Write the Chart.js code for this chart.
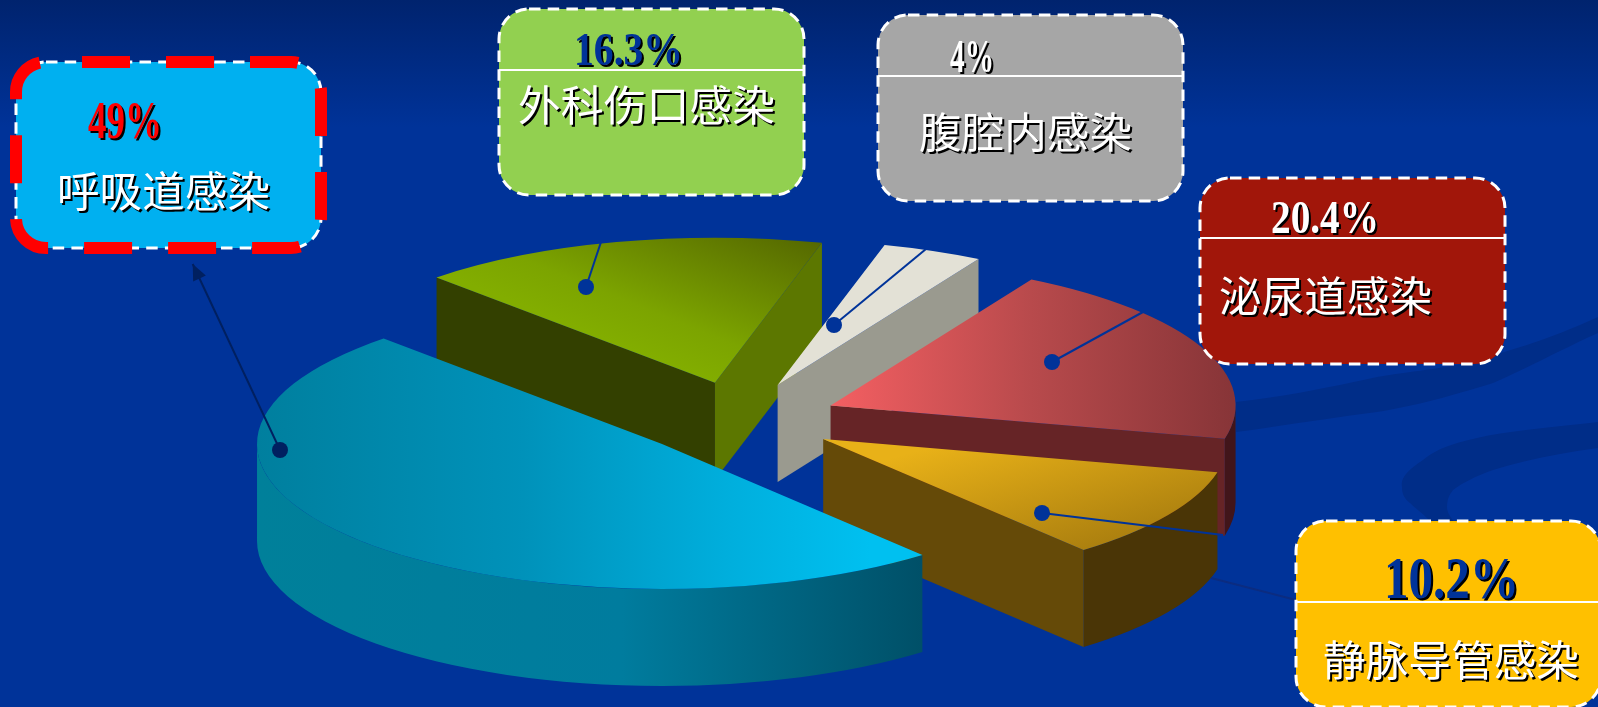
<!DOCTYPE html>
<html>
<head>
<meta charset="utf-8">
<title>感染部位构成</title>
<script src="https://cdn.jsdelivr.net/npm/chart.js@4"></script>
<style>
    html, body { margin: 0; width: 1598px; height: 707px; overflow: hidden; background: #003399; }
    #backdrop, #chartCanvas, #overlay { position: absolute; left: 0; top: 0; }
    .pct { font-family: "Liberation Serif", serif; font-weight: bold; filter: drop-shadow(2px 2px 0 #000); }
    .name { font-family: "Noto Sans CJK SC", sans-serif; font-size: 42px; fill: #fff; filter: drop-shadow(2px 2px 0 #000); }
</style>
</head>
<body>
<svg id="backdrop" width="1598" height="707">
    <defs>
        <linearGradient id="sky" x1="0" y1="0" x2="0" y2="1">
            <stop offset="0" stop-color="#00236e"/>
            <stop offset="0.18" stop-color="#003399"/>
            <stop offset="1" stop-color="#003399"/>
        </linearGradient>
    </defs>
    <rect width="1598" height="707" fill="url(#sky)"/>
    <path d="M1236 402 C1290 396 1340 385 1377 377 C1420 370 1450 368 1477 360 C1520 348 1560 335 1598 317 L1598 333 C1560 350 1520 372 1493 383 C1450 396 1420 405 1377 412 C1330 418 1280 426 1236 432 Z" fill="#002d88"/>
    <path d="M1598 422 C1550 428 1510 430 1477 438 C1450 444 1435 450 1423 460 C1408 470 1400 478 1402 487 C1402 495 1405 499 1410 503 C1416 509 1425 515 1433 524 L1456 524 C1450 517 1447 512 1447 507 C1447 500 1449 495 1453 490 C1462 483 1476 476 1493 470 C1525 460 1560 453 1598 448 Z" fill="#002d88"/>
</svg>
<canvas id="chartCanvas" width="1598" height="707"></canvas>
<svg id="overlay" width="1598" height="707"></svg>

<script>
const categories = ["呼吸道感染", "外科伤口感染", "腹腔内感染", "泌尿道感染", "静脉导管感染"];
const values = [49, 16.3, 4, 20.4, 10.2];

// how far each slice is pulled out, as a share of the radius
const explode = [0.248, 0.265, 0.262, 0.252, 0.25];
// small sideways correction on top of that, the green slice sits a bit right of its own direction
const tipNudgeX = [0, 4, 0, 0, 0];
// back to front, the big slice has to cover the others
const drawOrder = [1, 2, 3, 4, 0];

const pieRadius = 405;
const tilt = 145 / 405;
const depth = 97;
const centerX = 737;
const centerY = 420;

const canvas = document.getElementById("chartCanvas");
const ctx = canvas.getContext("2d");

// top face gradients are given relative to the tip of the slice, on screen
function topGradient(x0, y0, x1, y1, stops) {
    const g = ctx.createLinearGradient(centerX + x0, centerY + y0 / tilt, centerX + x1, centerY + y1 / tilt);
    stops.forEach(s => g.addColorStop(s[0], s[1]));
    return g;
}

const topColors = [
    topGradient(-405, 0, 262, 0, [[0, "#007f9e"], [0.4, "#0092ba"], [0.7, "#00aedc"], [0.92, "#00c0f0"], [1, "#00c0f0"]]),
    topGradient(0, 0, 255, -81, [[0, "#82ad00"], [0.25, "#7ca400"], [1, "#556800"]]),
    "#e3e1d6",
    topGradient(0, 0, 400, 0, [[0, "#f45f62"], [0.5, "#b84a4c"], [1, "#883538"]]),
    topGradient(100, 10, 300, 100, [[0, "#e8b118"], [1, "#ac800f"]])
];

const startWallColors = [null, "#334000", null, null, null];
const endWallColors = [null, "#5c7700", "#9a9a8f", "#662426", "#654a08"];

const blueRim = ctx.createLinearGradient(256, 0, 921, 0);
blueRim.addColorStop(0, "#00809a");
blueRim.addColorStop(0.55, "#007c9e");
blueRim.addColorStop(1, "#005068");
const rimColors = [blueRim, null, null, "#41151a", "#4a3506"];

function sliceTip(arc, i) {
    const mid = (arc.startAngle + arc.endAngle) / 2;
    return {
        x: arc.x + Math.cos(mid) * explode[i] * pieRadius + tipNudgeX[i],
        y: arc.y + Math.sin(mid) * explode[i] * pieRadius * tilt
    };
}

function drawWall(c, tip, angle, color) {
    const px = tip.x + Math.cos(angle) * pieRadius;
    const py = tip.y + Math.sin(angle) * pieRadius * tilt;
    c.fillStyle = color;
    c.beginPath();
    c.moveTo(tip.x, tip.y);
    c.lineTo(px, py);
    c.lineTo(px, py + depth);
    c.lineTo(tip.x, tip.y + depth);
    c.closePath();
    c.fill();
}

function drawRim(c, tip, arc, color) {
    // only the part of the edge that faces the viewer, angles 0..PI
    [0, Math.PI * 2].forEach(turn => {
        const from = Math.max(arc.startAngle, turn);
        const to = Math.min(arc.endAngle, turn + Math.PI);
        if (to <= from) {
            return;
        }
        c.fillStyle = color;
        c.beginPath();
        c.ellipse(tip.x, tip.y, pieRadius, pieRadius * tilt, 0, from, to);
        c.ellipse(tip.x, tip.y + depth, pieRadius, pieRadius * tilt, 0, to, from, true);
        c.closePath();
        c.fill();
    });
}

const pie3d = {
    id: "pie3d",
    beforeDatasetsDraw(chart) {
        const c = chart.ctx;
        const arcs = chart.getDatasetMeta(0).data;
        drawOrder.forEach(i => {
            const arc = arcs[i];
            const tip = sliceTip(arc, i);
            if (startWallColors[i]) {
                drawWall(c, tip, arc.startAngle, startWallColors[i]);
            }
            if (rimColors[i]) {
                drawRim(c, tip, arc, rimColors[i]);
            }
            if (endWallColors[i]) {
                drawWall(c, tip, arc.endAngle, endWallColors[i]);
            }
            c.save();
            c.translate(tip.x - arc.x, tip.y);
            c.scale(1, tilt);
            c.translate(0, -arc.y);
            arc.draw(c);
            c.restore();
        });
        return false;
    }
};

new Chart(canvas, {
    type: "pie",
    data: {
        labels: categories,
        datasets: [{
            data: values,
            backgroundColor: topColors,
            borderWidth: 0,
            clip: false
        }]
    },
    options: {
        responsive: false,
        animation: false,
        rotation: 140,
        radius: pieRadius,
        layout: { padding: { top: centerY * 2 - 707, right: 1598 - centerX * 2 } },
        plugins: { legend: { display: false }, tooltip: { enabled: false } }
    },
    plugins: [pie3d]
});

// callouts
const overlay = document.getElementById("overlay");

function svgEl(name, attrs, parent) {
    const el = document.createElementNS("http://www.w3.org/2000/svg", name);
    Object.keys(attrs).forEach(k => el.setAttribute(k, attrs[k]));
    (parent || overlay).appendChild(el);
    return el;
}

const boxLeft = [16, 499, 878, 1200, 1296];
const boxTop = [62, 9, 15, 178, 521];
const boxFill = ["#00b0f0", "#92d050", "#a6a6a6", "#a1160a", "#ffc000"];
const ruleY = [null, 70, 76, 238, 602];
const pctColor = ["#ff0000", "#003399", "#ffffff", "#ffffff", "#003399"];
const pctX = [88, 574, 950, 1271, 1384];
const pctY = [138, 65, 72, 233, 598];
const pctSize = [53, 47, 47, 47, 60];
const pctWidth = [74, 109, 44, 108, 135];
const nameX = [57, 518, 919, 1219, 1323];
const nameY = [207, 121, 148, 312, 676];
const nameWidth = [213, 257, 213, 213, 256];

const dotX = [280, 586, 834, 1052, 1042];
const dotY = [450, 287, 325, 362, 513];
const lineEndX = [192.7, 601, 926, 1143, 1223];
const lineEndY = [264, 242, 249, 312, 535];
const lineColor = ["#002060", "#003399", "#003399", "#003399", "#003399"];

// faint line that runs behind the yellow box
svgEl("line", { x1: 1211, y1: 578, x2: 1296, y2: 600, stroke: "#0b2c80", "stroke-width": 2 });

for (let i = 0; i < categories.length; i++) {
    svgEl("line", { x1: dotX[i], y1: dotY[i], x2: lineEndX[i], y2: lineEndY[i], stroke: lineColor[i], "stroke-width": 2 });
    svgEl("circle", { cx: dotX[i], cy: dotY[i], r: 8, fill: lineColor[i] });
}

// arrow head on the first leader
const arrowAngle = Math.atan2(lineEndY[0] - dotY[0], lineEndX[0] - dotX[0]);
const headBack = 16;
const headSide = 7;
const hx = lineEndX[0] - Math.cos(arrowAngle) * headBack;
const hy = lineEndY[0] - Math.sin(arrowAngle) * headBack;
svgEl("polygon", {
    points: lineEndX[0] + "," + lineEndY[0] + " " +
        (hx - Math.sin(arrowAngle) * headSide) + "," + (hy + Math.cos(arrowAngle) * headSide) + " " +
        (hx + Math.sin(arrowAngle) * headSide) + "," + (hy - Math.cos(arrowAngle) * headSide),
    fill: lineColor[0]
});

for (let i = 0; i < categories.length; i++) {
    svgEl("rect", {
        x: boxLeft[i], y: boxTop[i], width: 305, height: 186, rx: 30, ry: 30,
        fill: boxFill[i], stroke: "#fff", "stroke-width": 3, "stroke-dasharray": "11.5 7.2"
    });
    if (ruleY[i] !== null) {
        svgEl("line", { x1: boxLeft[i], y1: ruleY[i], x2: boxLeft[i] + 305, y2: ruleY[i], stroke: "#fff", "stroke-width": 2 });
    }
    const pct = svgEl("text", {
        x: pctX[i], y: pctY[i], class: "pct", fill: pctColor[i], "font-size": pctSize[i],
        textLength: pctWidth[i], lengthAdjust: "spacingAndGlyphs"
    });
    pct.textContent = values[i] + "%";
    const name = svgEl("text", {
        x: nameX[i], y: nameY[i], class: "name",
        textLength: nameWidth[i], lengthAdjust: "spacingAndGlyphs"
    });
    name.textContent = categories[i];
}

// the highlighted box gets a heavy red dashed outline
svgEl("rect", {
    x: boxLeft[0], y: boxTop[0], width: 305, height: 186, rx: 30, ry: 30,
    fill: "none", stroke: "#ff0000", "stroke-width": 12, "stroke-dasharray": "48 36", "stroke-dashoffset": 48
});
</script>
</body>
</html>
